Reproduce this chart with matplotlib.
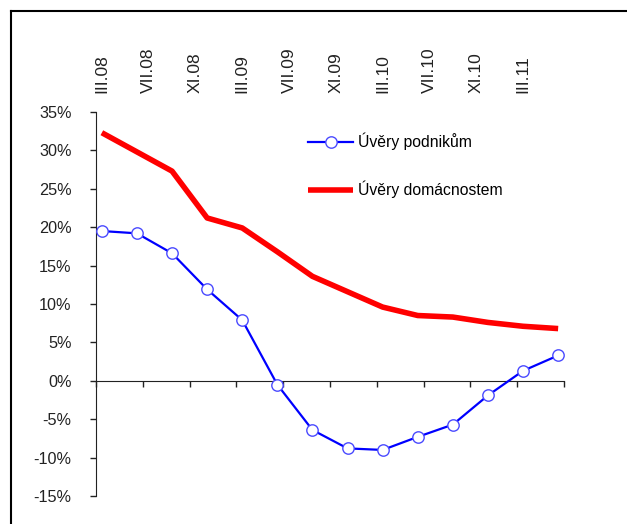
import numpy as np
import matplotlib
matplotlib.use('Agg')
import matplotlib.pyplot as plt
from matplotlib.lines import Line2D

plt.rcParams['font.family'] = ['Liberation Sans', 'DejaVu Sans']

# monthly axis III.08 .. VI.11 (40 months), values read quarterly
month_labels = ['III.08', 'VII.08', 'XI.08', 'III.09', 'VII.09', 'XI.09',
                'III.10', 'VII.10', 'XI.10', 'III.11']
label_months = [0, 4, 8, 12, 16, 20, 24, 28, 32, 36]
quarter_months = [0, 3, 6, 9, 12, 15, 18, 21, 24, 27, 30, 33, 36, 39]

podniky = [19.5, 19.2, 16.6, 11.9, 7.9, -0.5, -6.4, -8.8, -9.0, -7.3, -5.7, -1.9, 1.3, 3.3]
domacnosti = [32.3, 29.8, 27.3, 21.2, 19.9, 16.8, 13.6, 11.6, 9.6, 8.5, 8.3, 7.6, 7.1, 6.8]

yticks = [-15, -10, -5, 0, 5, 10, 15, 20, 25, 30, 35]

fig = plt.figure(figsize=(6.27, 5.24), dpi=100)
ax = fig.add_axes([0.1531, 0.0534, 0.8995 - 0.1531, 0.7863 - 0.0534])

ax.plot(quarter_months, domacnosti, color='#ff0000', lw=4, solid_capstyle='butt',
        label='Úvěry domácnostem', zorder=2)
ax.plot(quarter_months, podniky, color='#0000ff', lw=1.6, marker='o', ms=8.2,
        mfc='white', mec='#4a4aff', mew=1.0, label='Úvěry podnikům', zorder=3)

ax.set_xlim(-0.5, 39.5)
ax.set_ylim(-15, 35)

ax.spines['top'].set_visible(False)
ax.spines['right'].set_visible(False)
ax.spines['bottom'].set_position(('data', 0))
ax.spines['bottom'].set_color('#222222')
ax.spines['left'].set_color('#222222')

ax.set_yticks(yticks)
ax.set_yticklabels(['%d%%' % v for v in yticks])
ax.tick_params(axis='y', direction='out', length=4.5, width=1, pad=13,
               labelsize=11.7, colors='#222222')

ax.set_xticks(np.arange(-0.5, 40, 4))
ax.set_xticklabels([])
ax.tick_params(axis='x', which='major', direction='out', length=4.5, width=1,
               color='#222222')
ax.set_xticks(label_months, minor=True)
ax.set_xticklabels(month_labels, minor=True, rotation=90)
ax.tick_params(axis='x', which='minor', bottom=False, top=False, labelbottom=False,
               labeltop=True, length=0, pad=14, labelsize=12.5, labelcolor='#222222')

handles, labels = ax.get_legend_handles_labels()
leg = fig.legend(handles[::-1], labels[::-1], loc='center left',
                 bbox_to_anchor=(0.491, 0.6844), frameon=False, fontsize=11.3,
                 handlelength=2.9, handletextpad=0.3, labelspacing=1.95,
                 borderpad=0, borderaxespad=0)

# outer frame (top and left edge, cut off on the right/bottom)
fig.add_artist(Line2D([11 / 627, 1.0], [1 - 11 / 524, 1 - 11 / 524],
                      transform=fig.transFigure, color='black', lw=1.5))
fig.add_artist(Line2D([11 / 627, 11 / 627], [0.0, 1 - 11 / 524],
                      transform=fig.transFigure, color='black', lw=1.5))

fig.savefig('out.png', dpi=100)
